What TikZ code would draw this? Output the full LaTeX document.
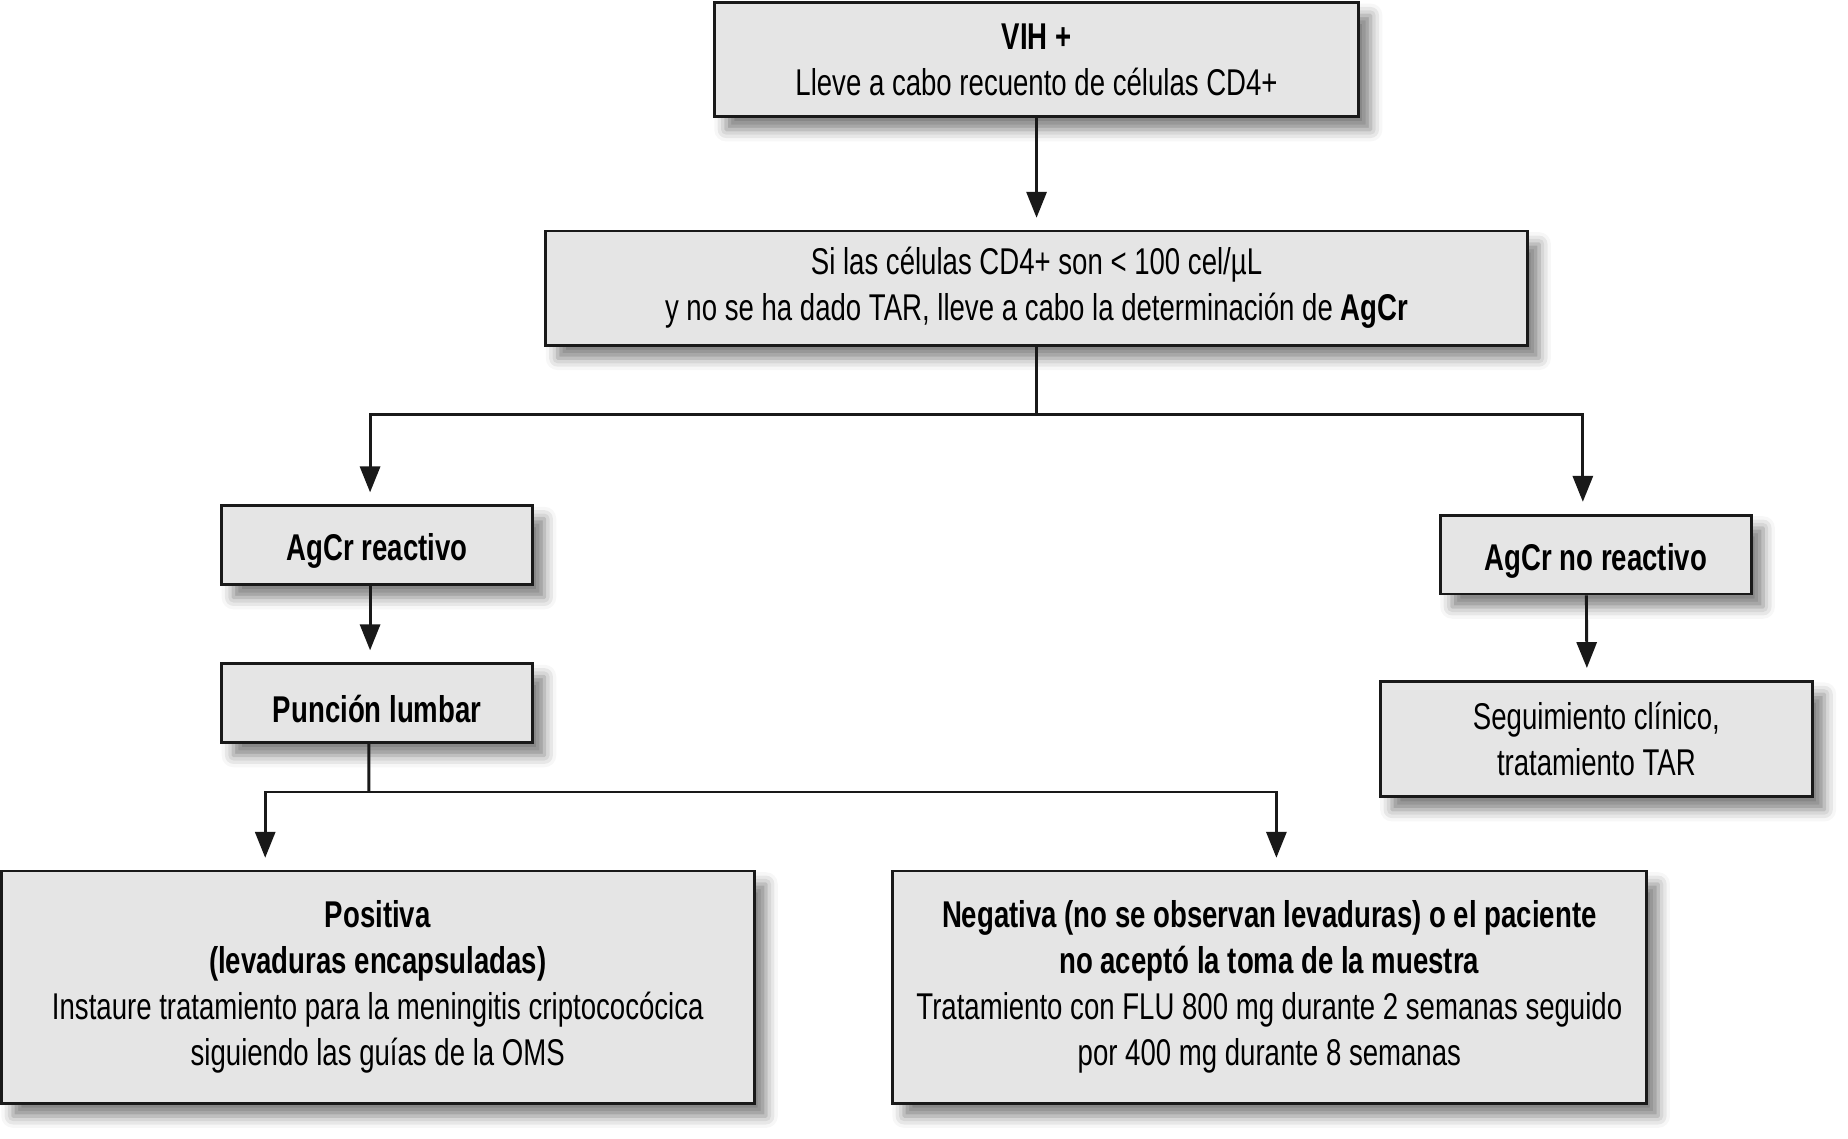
\documentclass[tikz,border=0pt]{standalone}
\usepackage{fontspec}
\setmainfont{Liberation Sans}[FakeStretch=0.74]
\usetikzlibrary{arrows.meta}
\usetikzlibrary{shadows.blur}
\usetikzlibrary{positioning}
\tikzstyle{stepbox}=[draw=black!90, fill=black!10, line width=1.4pt, align=center,
    inner sep=0pt, font=\fontsize{18}{22.2}\selectfont,
    execute at begin node={\rule{0pt}{19pt}},
    blur shadow={shadow xshift=0.2cm, shadow yshift=-0.22cm,
      shadow blur radius=0.2cm, shadow opacity=50}
]
\tikzstyle{link}=[line width=1.4pt, black!90]
\tikzstyle{arr}=[link, -{Triangle[length=0.44cm, width=0.34cm]}, shorten >=0.2cm]

\begin{document}
\begin{tikzpicture}[x=0.02cm, y=-0.02cm]
          \useasboundingbox (0,0) rectangle (1568,965.6);
          \node[stepbox, minimum width=10.94cm, minimum height=1.94cm] (vih) at (879.5,50.5)
            {\textbf{VIH +}\\Lleve a cabo recuento de células CD4+};
          \node[stepbox, minimum width=16.66cm, minimum height=1.94cm] (cd4) at (879.5,244.5)
            {Si las células CD4+ son < 100 cel/µL\\y no se ha dado TAR, lleve a cabo la determinación de \textbf{AgCr}};
          \node[stepbox, minimum width=5.28cm, minimum height=1.34cm] (reac) at (320,462.5)
            {\textbf{AgCr reactivo}};
          \node[stepbox, minimum width=5.28cm, minimum height=1.34cm] (lumbar) at (320,596.5)
            {\textbf{Punción lumbar}};
          \node[stepbox, minimum width=5.28cm, minimum height=1.34cm] (noreac) at (1354,470.5)
            {\textbf{AgCr no reactivo}};
          \node[stepbox, minimum width=7.34cm, minimum height=1.96cm] (seg) at (1354.5,627)
            {Seguimiento clínico,\\tratamiento TAR};
          \node[stepbox, minimum width=12.78cm, minimum height=3.94cm] (pos) at (320.5,837.5)
            {\textbf{Positiva}\\\textbf{(levaduras encapsuladas)}\\Instaure tratamiento para la meningitis criptococócica\\siguiendo las guías de la OMS};
          \node[stepbox, minimum width=12.8cm, minimum height=3.94cm] (neg) at (1077,837.5)
            {\textbf{Negativa (no se observan levaduras) o el paciente}\\\textbf{no aceptó la toma de la muestra}\\Tratamiento con FLU 800 mg durante 2 semanas seguido\\por 400 mg durante 8 semanas};
          \coordinate (fork1) at (879.5,352);
          \coordinate (fork2) at (313,672);
          \draw[arr](vih) -- (cd4);
          \draw[link](cd4) -- (fork1);
          \draw[arr](fork1) -| ([xshift=-0.12cm]reac.north);
          \draw[arr](fork1) -| ([xshift=-0.22cm]noreac.north);
          \draw[arr]([xshift=-0.12cm]reac.south) -- ([xshift=-0.12cm]lumbar.north);
          \draw[arr]([xshift=-0.16cm]noreac.south) -- ([xshift=-0.16cm]seg.north);
          \draw[link]([xshift=-0.14cm]lumbar.south) -- (fork2);
          \draw[arr](fork2) -| ([xshift=-1.91cm]pos.north);
          \draw[arr](fork2) -| ([xshift=0.12cm]neg.north);
        \end{tikzpicture}
\end{document}
